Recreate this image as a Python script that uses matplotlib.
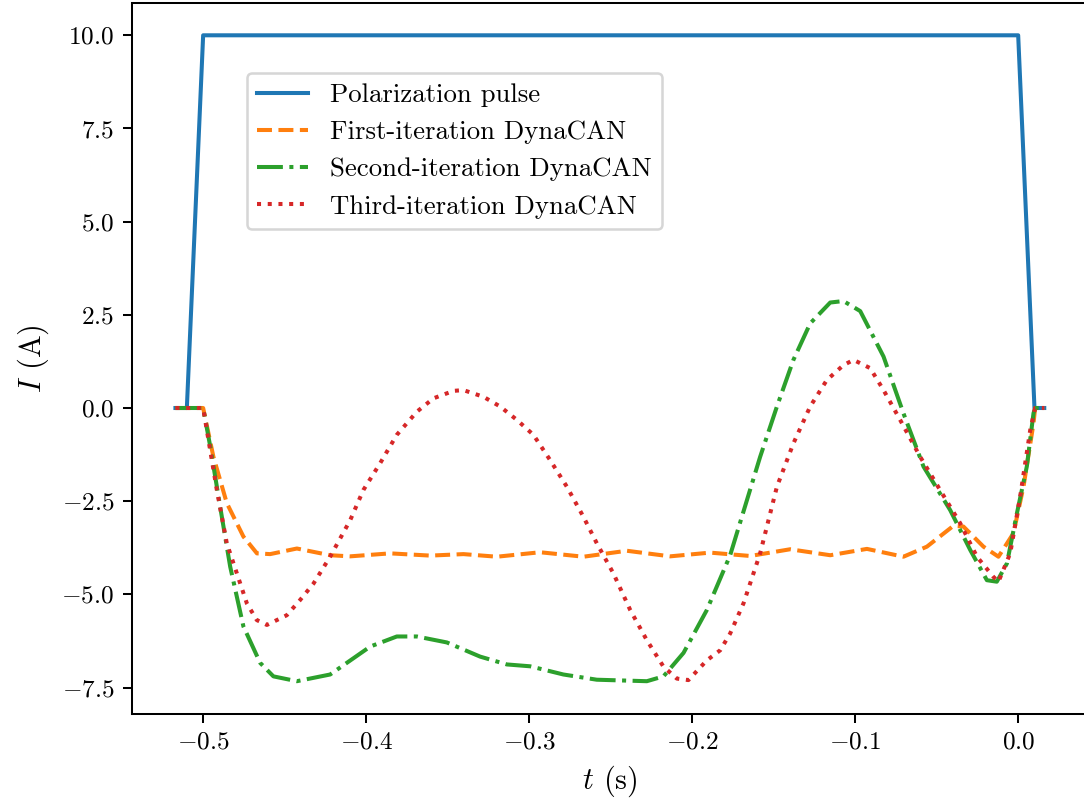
import matplotlib
matplotlib.use("Agg")
import matplotlib.pyplot as plt

plt.rcParams['font.family'] = 'serif'
plt.rcParams['font.serif'] = ['cmr10']
plt.rcParams['mathtext.fontset'] = 'cm'
plt.rcParams['axes.formatter.use_mathtext'] = True
plt.rcParams['font.size'] = 10

# Polarization pulse
t_pulse = [-0.517, -0.510, -0.500, 0.000, 0.0100, 0.016]
i_pulse = [0.0, 0.0, 10.0, 10.0, 0.0, 0.0]

# First-iteration DynaCAN
t_first = [-0.517, -0.500, -0.4937, -0.4855, -0.4753, -0.467, -0.4589, -0.4425,
           -0.4221, -0.4098, -0.3853, -0.3607, -0.3403, -0.3198, -0.2933, -0.2667,
           -0.2401, -0.2135, -0.189, -0.1644, -0.1399, -0.1153, -0.0928, -0.0704,
           -0.056, -0.0397, -0.0336, -0.0213, -0.0121, -0.0029, 0.0033, 0.0094,
           0.0104, 0.016]
i_first = [0.0, 0.0, -1.31, -2.55, -3.45, -3.90, -3.92, -3.77,
           -3.95, -3.98, -3.90, -3.96, -3.92, -3.99, -3.87, -3.99,
           -3.83, -3.98, -3.88, -3.97, -3.79, -3.95, -3.78, -3.99,
           -3.72, -3.16, -3.18, -3.72, -3.99, -3.36, -2.10, -0.41,
           0.0, 0.0]

# Second-iteration DynaCAN
t_second = [-0.517, -0.500, -0.4957, -0.4896, -0.4834, -0.4753, -0.465, -0.4569,
            -0.4425, -0.4221, -0.3975, -0.3812, -0.3689, -0.3505, -0.3301, -0.3137,
            -0.2994, -0.279, -0.2585, -0.2278, -0.2176, -0.2053, -0.191, -0.1767,
            -0.1583, -0.148, -0.1379, -0.1276, -0.1153, -0.1072, -0.0969, -0.0826,
            -0.0704, -0.0581, -0.0417, -0.0294, -0.0192, -0.0131, -0.0069, -0.0008,
            0.0053, 0.0094, 0.0104, 0.016]
i_second = [0.0, 0.0, -1.02, -2.64, -4.26, -5.86, -6.84, -7.20,
            -7.33, -7.15, -6.40, -6.13, -6.13, -6.29, -6.67, -6.88,
            -6.93, -7.15, -7.29, -7.33, -7.20, -6.57, -5.42, -3.95,
            -1.31, 0.04, 1.29, 2.27, 2.83, 2.87, 2.60, 1.38,
            -0.14, -1.57, -2.74, -3.81, -4.62, -4.66, -4.17, -2.83,
            -1.57, -0.14, 0.0, 0.0]

# Third-iteration DynaCAN
t_third = [-0.517, -0.500, -0.4957, -0.4916, -0.4855, -0.4793, -0.4732, -0.4671,
           -0.4609, -0.4487, -0.4405, -0.4323, -0.4221, -0.4098, -0.4017, -0.3914,
           -0.3812, -0.3689, -0.3587, -0.3464, -0.3403, -0.328, -0.3178, -0.3075,
           -0.2974, -0.2871, -0.2769, -0.2667, -0.2585, -0.2483, -0.238, -0.2278,
           -0.2176, -0.2094, -0.2023, -0.191, -0.1828, -0.1767, -0.1685, -0.1583,
           -0.148, -0.1379, -0.1276, -0.1174, -0.1072, -0.101, -0.0908, -0.0826,
           -0.0724, -0.0601, -0.0479, -0.0356, -0.0253, -0.0152, -0.0121, -0.0049,
           0.0012, 0.0074, 0.0104, 0.016]
i_third = [0.0, 0.0, -1.13, -2.20, -3.63, -4.44, -5.24, -5.69,
           -5.82, -5.56, -5.15, -4.71, -3.99, -3.01, -2.20, -1.48,
           -0.72, -0.10, 0.26, 0.46, 0.48, 0.30, 0.04, -0.32,
           -0.72, -1.40, -2.11, -2.92, -3.63, -4.44, -5.42, -6.23,
           -6.94, -7.26, -7.30, -6.77, -6.50, -6.05, -5.24, -3.90,
           -2.11, -0.95, 0.04, 0.75, 1.15, 1.29, 1.07, 0.48,
           -0.32, -1.31, -2.20, -3.09, -3.99, -4.53, -4.66, -3.90,
           -2.38, -0.59, 0.0, 0.0]

labels = ["Polarization pulse", "First-iteration DynaCAN",
          "Second-iteration DynaCAN", "Third-iteration DynaCAN"]

DPI = 182
fig = plt.figure(figsize=(1084 / DPI, 800 / DPI), dpi=DPI)
ax = fig.add_axes([132 / 1084, 86.5 / 800, 955.7 / 1084, 710.5 / 800])

ax.plot(t_pulse, i_pulse, '-', color='C0', lw=1.6, label=labels[0])
ax.plot(t_first, i_first, '--', color='C1', lw=1.6, label=labels[1])
ax.plot(t_second, i_second, '-.', color='C2', lw=1.6, label=labels[2])
ax.plot(t_third, i_third, ':', color='C3', lw=1.6, label=labels[3])

ax.set_xlabel(r"$t$ (s)", fontsize=12)
ax.set_ylabel(r"$I$ (A)", fontsize=12)
ax.legend(loc='upper left', bbox_to_anchor=(0.12, 0.902), borderaxespad=0,
          fontsize=10.6, handlelength=1.9)

fig.savefig("out.png", dpi=DPI)
